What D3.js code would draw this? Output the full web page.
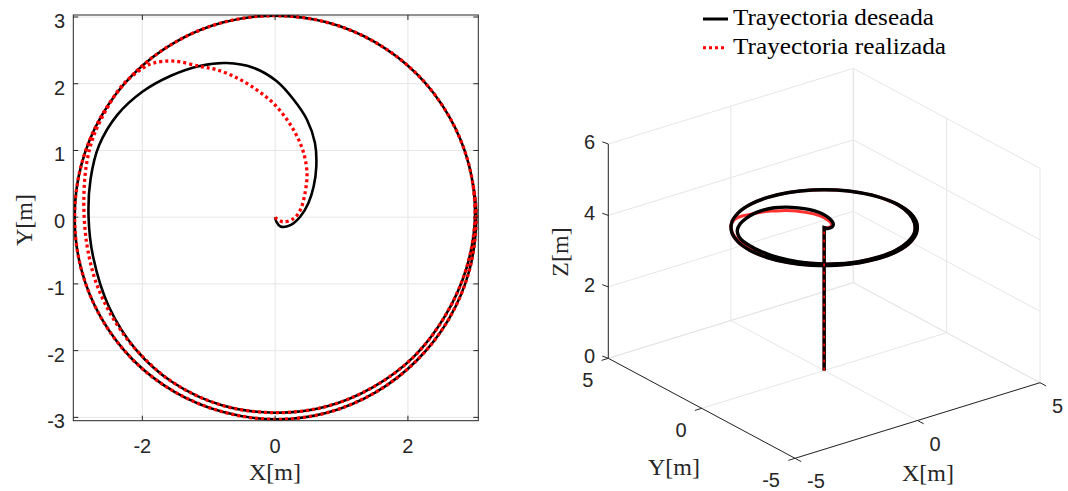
<!DOCTYPE html>
<html>
<head>
<meta charset="utf-8">
<script src="https://cdn.jsdelivr.net/npm/d3@7"></script>
<style>
  body { margin: 0; background: #fff; }
  svg { display: block; }
  .tick-label { font-family: "Liberation Sans", Arial, sans-serif; font-size: 20px; fill: #262626; }
  .axis-title { font-family: "Liberation Serif", "Times New Roman", serif; font-size: 24px; fill: #262626; }
  .legend-text { font-family: "Liberation Serif", "Times New Roman", serif; font-size: 24px; fill: #000; }
</style>
</head>
<body>
<svg id="chart" width="1068" height="491"></svg>
<script>
// desired trajectory (x, y)
var desiredXY = [
  [0,0],[0.02,-0.07],[0.08,-0.14],[0.23,-0.12],[0.38,0.01],[0.50,0.21],[0.58,0.46],[0.62,0.76],
  [0.60,1.11],[0.48,1.46],[0.28,1.76],[0.02,2.04],[-0.33,2.24],[-0.73,2.31],[-1.12,2.27],
  [-1.57,2.12],[-2.0,1.88],[-2.38,1.53],[-2.65,1.08],[-2.78,0.57],[-2.81,0],[-2.74,-0.6],
  [-2.5,-1.35],[-2.1,-1.98],[-1.55,-2.47],[-0.8,-2.82],[0,-2.93],
  [0.76,-2.84],[1.47,-2.55],[2.09,-2.09],[2.56,-1.48],[2.88,-0.77],[3.01,0],
  [2.92,0.78],[2.62,1.51],[2.14,2.14],[1.51,2.62],[0.78,2.92],[0,3.02],[-0.78,2.92],
  [-1.51,2.62],[-2.14,2.14],[-2.62,1.51],[-2.92,0.78],[-3.02,0],[-2.92,-0.78],[-2.62,-1.51],
  [-2.14,-2.14],[-1.51,-2.62],[-0.78,-2.92],[0,-3.03],[0.78,-2.93],[1.52,-2.62],[2.14,-2.14],
  [2.62,-1.52],[2.93,-0.78],[3.03,0.02],[2.98,0.5]
];
// realized trajectory (x, y)
var realizedXY = [
  [0,0],[0.02,-0.02],[0.12,-0.07],[0.28,-0.02],[0.38,0.11],[0.45,0.36],[0.48,0.66],[0.43,0.96],
  [0.33,1.21],[0.18,1.46],[-0.03,1.71],[-0.28,1.91],[-0.58,2.09],[-0.88,2.21],[-1.13,2.26],
  [-1.53,2.34],[-1.83,2.31],[-1.98,2.24],[-2.3,1.98],[-2.55,1.6],[-2.74,1.2],[-2.84,0.8],
  [-2.88,0.35],[-2.87,-0.1],[-2.82,-0.5],[-2.69,-1.0],[-2.45,-1.5],[-2.1,-1.98],
  [-1.55,-2.47],[-0.8,-2.82],[0,-2.93],[0.76,-2.84],[1.47,-2.55],[2.09,-2.09],[2.56,-1.48],
  [2.88,-0.77],[3.01,0],[2.92,0.78],[2.62,1.51],[2.14,2.14],[1.51,2.62],[0.78,2.92],[0,3.02],
  [-0.78,2.92],[-1.51,2.62],[-2.14,2.14],[-2.62,1.51],[-2.92,0.78],[-3.02,0],[-2.92,-0.78],
  [-2.62,-1.51],[-2.14,-2.14],[-1.51,-2.62],[-0.78,-2.92],[0,-3.03],[0.78,-2.93],[1.52,-2.62],
  [2.14,-2.14],[2.62,-1.52],[2.93,-0.78],[3.03,0.02],[2.98,0.5]
];
// climb at the origin before the spiral, and flight height
var climbZ = [0, 4];
var flightZ = 4;

var xTicks2d = [-2, 0, 2];
var yTicks2d = [-3, -2, -1, 0, 1, 2, 3];
var xTicks3d = [-5, 0, 5];
var yTicks3d = [-5, 0, 5];
var zTicks3d = [0, 2, 4, 6];
var legendLabels = ["Trayectoria deseada", "Trayectoria realizada"];

var svg = d3.select("#chart");
var axisColor = "#262626", gridColor = "#e6e6e6";

// ---------- left: XY plane ----------
var x = d3.scaleLinear().domain([-3.04, 3.06]).range([73.3, 478.3]);
var y = d3.scaleLinear().domain([-3.05, 3.03]).range([420.7, 15]);
var left = svg.append("g");

left.append("clipPath").attr("id", "clip2d").append("rect")
    .attr("x", x.range()[0]).attr("y", y.range()[1])
    .attr("width", x.range()[1] - x.range()[0]).attr("height", y.range()[0] - y.range()[1]);

xTicks2d.forEach(function(t){
    left.append("line").attr("x1", x(t)).attr("x2", x(t))
        .attr("y1", y.range()[0]).attr("y2", y.range()[1])
        .attr("stroke", gridColor).attr("stroke-width", 1);
});
yTicks2d.forEach(function(t){
    left.append("line").attr("y1", y(t)).attr("y2", y(t))
        .attr("x1", x.range()[0]).attr("x2", x.range()[1])
        .attr("stroke", gridColor).attr("stroke-width", 1);
});

var line2d = d3.line()
    .x(function(d){ return x(d[0]); })
    .y(function(d){ return y(d[1]); })
    .curve(d3.curveCatmullRom.alpha(0.5));

var plot = left.append("g").attr("clip-path", "url(#clip2d)");
plot.append("path").datum(desiredXY).attr("d", line2d)
    .attr("fill", "none").attr("stroke", "#000").attr("stroke-width", 2.6);
plot.append("path").datum(realizedXY).attr("d", line2d)
    .attr("fill", "none").attr("stroke", "#ff0000").attr("stroke-width", 3.3)
    .attr("stroke-dasharray", "3,3");

// box + ticks
left.append("rect")
    .attr("x", x.range()[0]).attr("y", y.range()[1])
    .attr("width", x.range()[1] - x.range()[0]).attr("height", y.range()[0] - y.range()[1])
    .attr("fill", "none").attr("stroke", axisColor).attr("stroke-width", 1);
xTicks2d.forEach(function(t){
    left.append("line").attr("x1", x(t)).attr("x2", x(t)).attr("y1", y.range()[0]).attr("y2", y.range()[0] - 5)
        .attr("stroke", axisColor);
    left.append("line").attr("x1", x(t)).attr("x2", x(t)).attr("y1", y.range()[1]).attr("y2", y.range()[1] + 5)
        .attr("stroke", axisColor);
    left.append("text").attr("class", "tick-label").attr("x", x(t)).attr("y", 453)
        .attr("text-anchor", "middle").text(t);
});
yTicks2d.forEach(function(t){
    left.append("line").attr("y1", y(t)).attr("y2", y(t)).attr("x1", x.range()[0]).attr("x2", x.range()[0] + 5)
        .attr("stroke", axisColor);
    left.append("line").attr("y1", y(t)).attr("y2", y(t)).attr("x1", x.range()[1]).attr("x2", x.range()[1] - 5)
        .attr("stroke", axisColor);
    left.append("text").attr("class", "tick-label").attr("x", 65).attr("y", y(t) + 11)
        .attr("text-anchor", "end").text(t);
});
left.append("text").attr("class", "axis-title").attr("x", 275).attr("y", 480)
    .attr("text-anchor", "middle").text("X[m]");
left.append("text").attr("class", "axis-title")
    .attr("transform", "translate(32,220) rotate(-90)")
    .attr("text-anchor", "middle").text("Y[m]");

// ---------- right: 3D view ----------
var xH = d3.scaleLinear().domain([-5, 5]).range([0, 245]);
var xV = d3.scaleLinear().domain([-5, 5]).range([0, -75.6]);
var yH = d3.scaleLinear().domain([5, -5]).range([0, 186.7]);
var yV = d3.scaleLinear().domain([5, -5]).range([0, 100]);
var zV = d3.scaleLinear().domain([0, 6]).range([0, -214.3]);
function proj(p){
    return [608.3 + xH(p[0]) + yH(p[1]), 358.3 + xV(p[0]) + yV(p[1]) + zV(p[2])];
}
var right = svg.append("g");
function seg(a, b, color, w){
    var pa = proj(a), pb = proj(b);
    right.append("line").attr("x1", pa[0]).attr("y1", pa[1]).attr("x2", pb[0]).attr("y2", pb[1])
        .attr("stroke", color).attr("stroke-width", w || 1);
}
// grid on floor and two back walls
xTicks3d.forEach(function(t){
    seg([t, -5, 0], [t, 5, 0], gridColor);
    seg([t, 5, 0], [t, 5, 6], gridColor);
});
yTicks3d.forEach(function(t){
    seg([-5, t, 0], [5, t, 0], gridColor);
    seg([5, t, 0], [5, t, 6], gridColor);
});
zTicks3d.forEach(function(t){
    seg([-5, 5, t], [5, 5, t], gridColor);
    seg([5, 5, t], [5, -5, t], gridColor);
});

function to3d(pts){
    var out = climbZ.map(function(z){ return [0, 0, z]; });
    return out.concat(pts.map(function(d){ return [d[0], d[1], flightZ]; }));
}
var line3d = d3.line()
    .x(function(d){ return proj(d)[0]; })
    .y(function(d){ return proj(d)[1]; })
    .curve(d3.curveCatmullRom.alpha(0.5));

right.append("path").datum(to3d(realizedXY)).attr("d", line3d)
    .attr("fill", "none").attr("stroke", "#ff3030").attr("stroke-width", 3);
right.append("path").datum(to3d(desiredXY)).attr("d", line3d)
    .attr("fill", "none").attr("stroke", "#000").attr("stroke-width", 3.4);
right.append("path").datum(climbZ.map(function(z){ return [0, 0, z]; })).attr("d", line3d)
    .attr("fill", "none").attr("stroke", "#ff0000").attr("stroke-width", 1.6)
    .attr("stroke-dasharray", "3,5");

// axis lines
seg([-5, 5, 0], [-5, 5, 6], axisColor);
seg([-5, 5, 0], [-5, -5, 0], axisColor);
seg([-5, -5, 0], [5, -5, 0], axisColor);

zTicks3d.forEach(function(t){
    var p = proj([-5, 5, t]);
    right.append("line").attr("x1", p[0]).attr("y1", p[1]).attr("x2", p[0] - 6).attr("y2", p[1] - 2.2)
        .attr("stroke", axisColor);
    right.append("text").attr("class", "tick-label").attr("x", 595).attr("y", p[1] + 5)
        .attr("text-anchor", "end").text(t);
});
yTicks3d.forEach(function(t){
    var p = proj([-5, t, 0]);
    right.append("line").attr("x1", p[0]).attr("y1", p[1]).attr("x2", p[0] - 6.7).attr("y2", p[1] + 2.1)
        .attr("stroke", axisColor);
    right.append("text").attr("class", "tick-label").attr("x", p[0] - 15).attr("y", p[1] + 29)
        .attr("text-anchor", "end").text(t);
});
xTicks3d.forEach(function(t){
    var p = proj([t, -5, 0]);
    right.append("line").attr("x1", p[0]).attr("y1", p[1]).attr("x2", p[0] + 6.2).attr("y2", p[1] + 3.3)
        .attr("stroke", axisColor);
    right.append("text").attr("class", "tick-label").attr("x", p[0] + 12).attr("y", p[1] + 30)
        .attr("text-anchor", "start").text(t);
});
right.append("text").attr("class", "axis-title").attr("x", 674).attr("y", 475)
    .attr("text-anchor", "middle").text("Y[m]");
right.append("text").attr("class", "axis-title").attr("x", 928).attr("y", 481)
    .attr("text-anchor", "middle").text("X[m]");
right.append("text").attr("class", "axis-title")
    .attr("transform", "translate(568,252) rotate(-90)")
    .attr("text-anchor", "middle").text("Z[m]");

// legend
var legend = svg.append("g");
legend.append("line").attr("x1", 703).attr("x2", 728).attr("y1", 19).attr("y2", 19)
    .attr("stroke", "#000").attr("stroke-width", 3);
legend.append("line").attr("x1", 703).attr("x2", 727).attr("y1", 47.7).attr("y2", 47.7)
    .attr("stroke", "#ff0000").attr("stroke-width", 3).attr("stroke-dasharray", "3,3");
legend.append("text").attr("class", "legend-text").attr("x", 733).attr("y", 25)
    .attr("textLength", 201).attr("lengthAdjust", "spacingAndGlyphs").text(legendLabels[0]);
legend.append("text").attr("class", "legend-text").attr("x", 733).attr("y", 54)
    .attr("textLength", 213).attr("lengthAdjust", "spacingAndGlyphs").text(legendLabels[1]);
</script>
</body>
</html>
